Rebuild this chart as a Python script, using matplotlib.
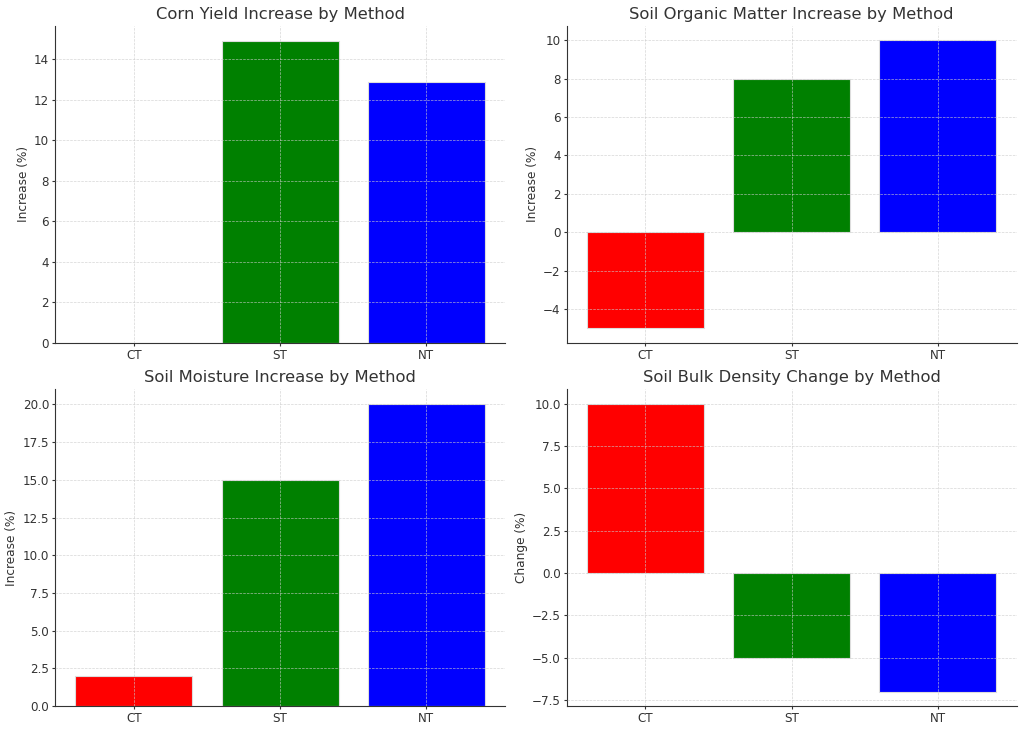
import matplotlib
matplotlib.use("Agg")
import matplotlib.pyplot as plt

methods = ["CT", "ST", "NT"]
colors = ["red", "green", "blue"]
corn_yield = [0, 14.9, 12.9]
organic_matter = [-5, 8, 10]
moisture = [2, 15, 20]
bulk_density = [10, -5, -7]

titles = ["Corn Yield Increase by Method", "Soil Organic Matter Increase by Method",
          "Soil Moisture Increase by Method", "Soil Bulk Density Change by Method"]
ylabels = ["Increase (%)", "Increase (%)", "Increase (%)", "Change (%)"]
series = [corn_yield, organic_matter, moisture, bulk_density]

plt.rcParams['font.family'] = ['DejaVu Sans']
fig, axes = plt.subplots(2, 2, figsize=(10.24, 7.3), dpi=100)
fig.subplots_adjust(left=0.0537, right=0.993, top=0.9644, bottom=0.0329,
                    wspace=0.136, hspace=0.148)
for ax, vals, title, yl in zip(axes.flat, series, titles, ylabels):
    ax.bar(methods, vals, color=colors, edgecolor="#dddddd", linewidth=0.8)
    ax.set_title(title, fontsize=11.8, color="#333333", pad=5)
    ax.set_ylabel(yl, fontsize=8.7, color="#333333", labelpad=3)
    ax.tick_params(labelsize=8.6, colors="#333333", length=2.5, pad=1.8, width=0.8)
    ax.grid(True, linestyle="--", linewidth=0.5, color="#cccccc", alpha=0.8)
    ax.set_axisbelow(False)
    for s in ["top", "right"]:
        ax.spines[s].set_visible(False)
    for s in ["left", "bottom"]:
        ax.spines[s].set_color("#333333")
fig.savefig("out.png", dpi=100)
